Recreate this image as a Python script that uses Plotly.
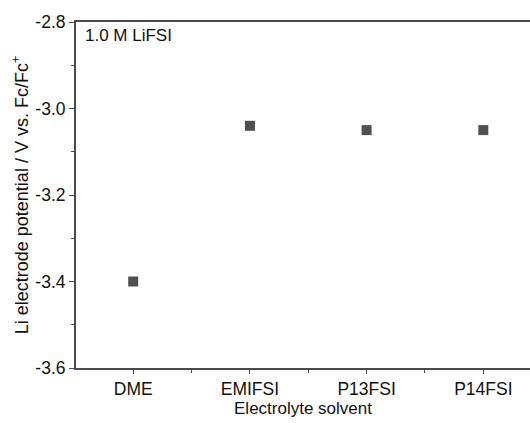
import plotly.graph_objects as go

solvents = ["DME", "EMIFSI", "P13FSI", "P14FSI"]
potential = [-3.40, -3.04, -3.05, -3.05]
y_ticks = [-3.6, -3.4, -3.2, -3.0, -2.8]
y_tick_labels = ["-3.6", "-3.4", "-3.2", "-3.0", "-2.8"]

pos = list(range(len(solvents)))
axis_col = "#4a4a4a"
font = dict(family="Liberation Sans, Arial, sans-serif", size=17.5, color="#111111")

fig = go.Figure(go.Scatter(
    x=pos, y=potential, mode="markers",
    marker=dict(symbol="square", size=10, color="#505050"),
    showlegend=False,
))

fig.update_layout(
    width=530, height=423,
    margin=dict(l=76, r=0, t=22, b=55),
    plot_bgcolor="white", paper_bgcolor="white",
    font=font,
)
fig.update_xaxes(
    range=[-0.49, 3.40],
    tickmode="array", tickvals=pos, ticktext=solvents,
    showline=True, linecolor=axis_col, linewidth=2, mirror=True,
    ticks="outside", ticklen=4, tickcolor=axis_col, tickwidth=1,
    minor=dict(tickmode="array", tickvals=[0.5, 1.5, 2.5], ticks="outside", ticklen=3, tickcolor=axis_col),
    showgrid=False, zeroline=False,
    title=dict(text="Electrolyte solvent", standoff=4, font=dict(size=17)),
)
fig.update_yaxes(
    range=[-3.6, -2.8],
    tickmode="array", tickvals=y_ticks, ticktext=y_tick_labels,
    showline=True, linecolor=axis_col, linewidth=2,
    ticks="outside", ticklen=5, tickcolor=axis_col, tickwidth=1,
    minor=dict(dtick=0.1, tick0=-3.6, ticks="outside", ticklen=3, tickcolor=axis_col),
    showgrid=False, zeroline=False,
    title=dict(text="Li electrode potential / V vs. Fc/Fc<sup>+</sup>", standoff=2, font=dict(size=18)),
)
fig.add_annotation(
    text="1.0 M LiFSI", xref="paper", yref="paper", x=0.015, y=0.995,
    xanchor="left", yanchor="top", showarrow=False, font=dict(size=17),
)
fig.write_html("out.html", config={"displayModeBar": False},
               post_script="document.body.style.margin='0';")
